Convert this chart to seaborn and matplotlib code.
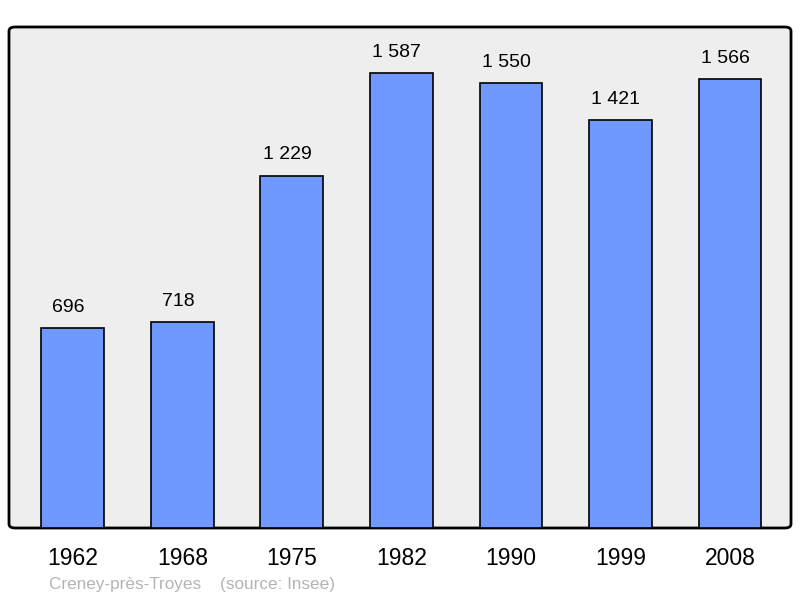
import matplotlib
matplotlib.use("Agg")
import matplotlib.pyplot as plt
import seaborn as sns
import pandas as pd
from matplotlib.patches import FancyBboxPatch

years = ["1962", "1968", "1975", "1982", "1990", "1999", "2008"]
population = [696, 718, 1229, 1587, 1550, 1421, 1566]
labels = ["696", "718", "1 229", "1 587", "1 550", "1 421", "1 566"]
source_text = "Creney-près-Troyes    (source: Insee)"

sns.set_theme(style="white")
plt.rcParams['font.family'] = ['Liberation Sans', 'DejaVu Sans']

df = pd.DataFrame({"year": years, "pop": population})

fig = plt.figure(figsize=(8, 5.98), dpi=100)
ax = fig.add_axes([9/800, 1-528/598, 782/800, 501/598])
ax.set_facecolor("none")

bg = FancyBboxPatch((0, 0), 1, 1, boxstyle="round,pad=0,rounding_size=0.008",
                    transform=ax.transAxes, facecolor="#eeeeee", edgecolor="black",
                    linewidth=2, zorder=0, clip_on=False)
ax.add_patch(bg)

sns.barplot(data=df, x="year", y="pop", color="#7099ff", width=0.575,
            edgecolor="black", linewidth=1.2, saturation=1, ax=ax, zorder=2)

for i, (v, lab) in enumerate(zip(population, labels)):
    ax.annotate(lab, (i, v), xytext=(-3.3, 15), textcoords="offset points",
                ha="center", va="center", fontsize=14, color="black")

ax.set_xlim(-0.584, 6.557)
ax.set_ylim(0, 1747)
ax.set_yticks([])
ax.set_xlabel("")
ax.set_ylabel("")
for s in ax.spines.values():
    s.set_visible(False)
ax.tick_params(axis="x", length=0, labelsize=16.5, pad=14, colors="black")

fig.text(49/800, 1-584/598, source_text, fontsize=12.3, color="#b4b4b4",
         ha="left", va="center")

fig.savefig("out.png", dpi=100)
